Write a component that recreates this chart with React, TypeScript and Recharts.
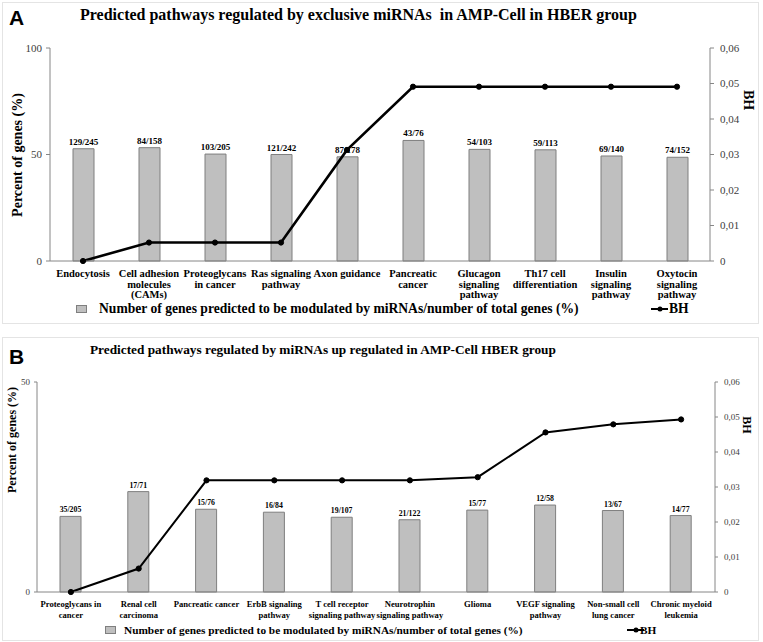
import React from 'react';
import { ComposedChart, Bar, Line, XAxis, YAxis, Legend, LabelList } from 'recharts';

// --- Panel A: exclusive miRNAs ---
const pathwaysA = [
  'Endocytosis',
  'Cell adhesion\nmolecules\n(CAMs)',
  'Proteoglycans\nin cancer',
  'Ras signaling\npathway',
  'Axon guidance',
  'Pancreatic\ncancer',
  'Glucagon\nsignaling\npathway',
  'Th17 cell\ndifferentiation',
  'Insulin\nsignaling\npathway',
  'Oxytocin\nsignaling\npathway',
];
const ratiosA = ['129/245', '84/158', '103/205', '121/242', '87/178', '43/76', '54/103', '59/113', '69/140', '74/152'];
const percentA = [52.7, 53.2, 50.2, 50.0, 48.9, 56.6, 52.4, 52.2, 49.3, 48.7];
const bhA = [0, 0.0052, 0.0052, 0.0052, 0.0313, 0.0491, 0.0491, 0.0491, 0.0491, 0.0491];

// --- Panel B: up regulated miRNAs ---
const pathwaysB = [
  'Proteoglycans in\ncancer',
  'Renal cell\ncarcinoma',
  'Pancreatic cancer',
  'ErbB signaling\npathway',
  'T cell receptor\nsignaling pathway',
  'Neurotrophin\nsignaling pathway',
  'Glioma',
  'VEGF signaling\npathway',
  'Non-small cell\nlung cancer',
  'Chronic myeloid\nleukemia',
];
const ratiosB = ['35/205', '17/71', '15/76', '16/84', '19/107', '21/122', '15/77', '12/58', '13/67', '14/77'];
const percentB = [18.0, 23.9, 19.7, 19.0, 17.8, 17.2, 19.5, 20.7, 19.4, 18.2];
const bhB = [0, 0.0067, 0.0319, 0.0319, 0.0319, 0.0319, 0.0328, 0.0456, 0.0479, 0.0493];

const pctTicksA = [0, 50, 100];
const pctTicksB = [0, 50];
const bhTicks = [0, 0.01, 0.02, 0.03, 0.04, 0.05, 0.06];

const barName = 'Number of genes predicted to be modulated by miRNAs/number of total genes (%)';

const serif = '"Liberation Serif", "Times New Roman", serif';
const sans = '"Liberation Sans", Arial, sans-serif';
const axisGrey = '#868686';

const fmtBH = (v: number) => (v === 0 ? '0' : v.toFixed(2).replace('.', ','));

const rowsA = pathwaysA.map((name, i) => ({ name, pct: percentA[i], ratio: ratiosA[i], bh: bhA[i] }));
const rowsB = pathwaysB.map((name, i) => ({ name, pct: percentB[i], ratio: ratiosB[i], bh: bhB[i] }));

const CategoryTick = (props: any) => {
  const { x, y, payload, fontSize, lineHeight, firstDy } = props;
  const lines = String(payload.value).split('\n');
  return (
    <text x={x} y={y} textAnchor="middle" fontSize={fontSize} fontWeight="bold" fontFamily={serif} fill="#000">
      {lines.map((l, i) => (
        <tspan key={i} x={x} dy={i === 0 ? firstDy : lineHeight}>{l}</tspan>
      ))}
    </text>
  );
};

const AxisTitle = (props: any) => {
  const { viewBox, text, dx, cy, size, rotate } = props;
  const cx = viewBox.x + dx;
  return (
    <text
      x={cx}
      y={cy}
      transform={`rotate(${rotate}, ${cx}, ${cy})`}
      textAnchor="middle"
      dominantBaseline="central"
      fontFamily={serif}
      fontWeight="bold"
      fontSize={size}
      fill="#000"
    >
      {text}
    </text>
  );
};

const LegendRow = (props: any) => {
  const { height, fontSize, iconX, textX, bhX, bhTextX } = props;
  return (
    <div style={{ position: 'relative', width: 760, height, fontFamily: serif, fontWeight: 'bold', fontSize, color: '#000' }}>
      <span
        style={{
          position: 'absolute', left: iconX, top: height / 2 - 4, width: 9, height: 6,
          background: '#bfbfbf', border: '1px solid #7f7f7f',
        }}
      />
      <span style={{ position: 'absolute', left: textX, top: 0, lineHeight: `${height}px`, whiteSpace: 'nowrap' }}>
        {barName}
      </span>
      <svg style={{ position: 'absolute', left: bhX, top: height / 2 - 4 }} width={18} height={8}>
        <line x1={0} y1={4} x2={17} y2={4} stroke="#000" strokeWidth={2} />
        <circle cx={9} cy={4} r={2.5} fill="#000" />
      </svg>
      <span style={{ position: 'absolute', left: bhTextX, top: 0, lineHeight: `${height}px` }}>BH</span>
    </div>
  );
};

const Panel = (props: any) => {
  const { data, top, height, margin, leftW, rightW, xH, pctTicks, pctMax, cfg } = props;
  return (
    <div style={{ position: 'absolute', left: 0, top }}>
      <ComposedChart width={760} height={height} data={data} margin={margin} barCategoryGap={0}>
        <XAxis
          dataKey="name"
          xAxisId={0}
          interval={0}
          height={xH}
          tickLine={false}
          tickSize={0}
          tickMargin={0}
          axisLine={{ stroke: axisGrey }}
          tick={<CategoryTick fontSize={cfg.catSize} lineHeight={cfg.catLine} firstDy={cfg.catDy} />}
        />
        <YAxis
          yAxisId="pct"
          orientation="left"
          width={leftW}
          domain={[0, pctMax]}
          ticks={pctTicks}
          interval={0}
          tickSize={cfg.tickSize}
          tickMargin={4}
          axisLine={{ stroke: axisGrey }}
          tickLine={{ stroke: axisGrey }}
          tick={{ fontSize: cfg.tickFont, fontFamily: serif, fill: '#404040' }}
          label={<AxisTitle text="Percent of genes (%)" dx={cfg.pctTitleX} cy={cfg.pctTitleY} size={cfg.titleSize} rotate={-90} />}
        />
        <YAxis
          yAxisId="bh"
          orientation="right"
          width={rightW}
          domain={[0, 0.06]}
          ticks={bhTicks}
          interval={0}
          tickSize={cfg.tickSize}
          tickMargin={6}
          tickFormatter={fmtBH}
          axisLine={{ stroke: axisGrey }}
          tickLine={{ stroke: axisGrey }}
          tick={{ fontSize: cfg.tickFont, fontFamily: serif, fill: '#404040', textAnchor: 'start' }}
          label={<AxisTitle text="BH" dx={cfg.bhTitleX} cy={cfg.bhTitleY} size={cfg.titleSize} rotate={90} />}
        />
        <Legend
          verticalAlign="bottom"
          wrapperStyle={{ left: 0, width: 760 }}
          content={() => (
            <LegendRow
              height={cfg.legendH}
              fontSize={cfg.legendFont}
              iconX={cfg.legIcon}
              textX={cfg.legText}
              bhX={cfg.legBh}
              bhTextX={cfg.legBhText}
            />
          )}
        />
        <Bar
          yAxisId="pct"
          dataKey="pct"
          name={barName}
          barSize={21}
          fill="#bfbfbf"
          stroke="#7f7f7f"
          strokeWidth={1}
          isAnimationActive={false}
        >
          <LabelList
            dataKey="ratio"
            position="top"
            offset={cfg.ratioOffset}
            style={{ fontSize: cfg.ratioFont, fontFamily: serif, fontWeight: 'bold', fill: '#000' }}
          />
        </Bar>
        <Line
          yAxisId="bh"
          dataKey="bh"
          name="BH"
          type="linear"
          stroke="#000"
          strokeWidth={cfg.lineW}
          dot={{ r: 2.6, fill: '#000', stroke: '#000', strokeWidth: 1 }}
          activeDot={false}
          isAnimationActive={false}
        />
      </ComposedChart>
    </div>
  );
};

const cfgA = {
  catSize: 10.5, catLine: 10.7, catDy: 16, tickSize: 4, tickFont: 11, titleSize: 14,
  pctTitleX: 17, pctTitleY: 155, bhTitleX: 38, bhTitleY: 100,
  legendH: 20, legendFont: 13.6, legIcon: 76, legText: 99, legBh: 651, legBhText: 669,
  ratioOffset: 4, ratioFont: 9, lineW: 2.6,
};

const cfgB = {
  catSize: 8.6, catLine: 11, catDy: 14.5, tickSize: 3, tickFont: 9, titleSize: 12,
  pctTitleX: 12, pctTitleY: 103, bhTitleX: 32, bhTitleY: 88,
  legendH: 16, legendFont: 11.3, legIcon: 105, legText: 124, legBh: 627, legBhText: 640,
  ratioOffset: 4, ratioFont: 7.8, lineW: 2,
};

export default function App() {
  return (
    <div style={{ position: 'absolute', left: 0, top: 0, width: 763, height: 642, background: '#fff' }}>
      <div style={{ position: 'absolute', left: 2, top: 2, width: 755, height: 320, border: '1px solid #e4e4e4' }} />
      <div style={{ position: 'absolute', left: 2, top: 337, width: 755, height: 302, border: '1px solid #e4e4e4' }} />
      <div style={{ position: 'absolute', left: 9, top: 5, fontFamily: sans, fontWeight: 'bold', fontSize: 21, lineHeight: '26px' }}>A</div>
      <div style={{ position: 'absolute', left: 9, top: 344, fontFamily: sans, fontWeight: 'bold', fontSize: 21, lineHeight: '26px' }}>B</div>
      <div style={{ position: 'absolute', left: 80, top: 5, fontFamily: serif, fontWeight: 'bold', fontSize: 16, lineHeight: '20px', whiteSpace: 'pre' }}>
        {'Predicted pathways regulated by exclusive miRNAs  in AMP-Cell in HBER group'}
      </div>
      <div style={{ position: 'absolute', left: 90, top: 341, fontFamily: serif, fontWeight: 'bold', fontSize: 13.3, lineHeight: '18px', whiteSpace: 'pre' }}>
        {'Predicted pathways regulated by miRNAs up regulated in AMP-Cell HBER group'}
      </div>
      <Panel
        data={rowsA}
        top={0}
        height={323}
        margin={{ top: 48, right: 0, bottom: 4, left: 0 }}
        leftW={50}
        rightW={50}
        xH={38}
        pctTicks={pctTicksA}
        pctMax={100}
        cfg={cfgA}
      />
      <Panel
        data={rowsB}
        top={337}
        height={305}
        margin={{ top: 45, right: 0, bottom: 4, left: 0 }}
        leftW={37}
        rightW={45}
        xH={30}
        pctTicks={pctTicksB}
        pctMax={50}
        cfg={cfgB}
      />
    </div>
  );
}
